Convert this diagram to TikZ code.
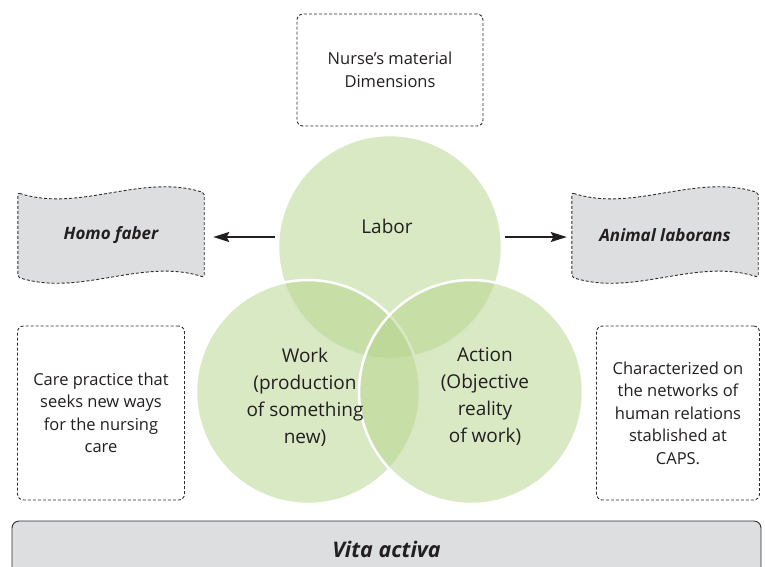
\documentclass[tikz,border=0pt]{standalone}
\usepackage{fontspec}
\setmainfont{Open Sans}
\usetikzlibrary{arrows.meta,backgrounds}

\definecolor{leaf}{RGB}{180,211,138}
\definecolor{boxgray}{RGB}{221,222,224}
\definecolor{dashgray}{RGB}{45,45,45}
\definecolor{ink}{RGB}{35,31,32}

\begin{document}
\begin{tikzpicture}[x=1pt, y=-1pt,
    circ/.style={circle, minimum size=224pt, inner sep=0pt, fill=leaf, fill opacity=0.5, draw=white, line width=2.5pt},
    ctext/.style={align=center, text=ink, font=\fontsize{19}{27}\selectfont},
    dashes/.style={draw=dashgray, dash pattern=on 3pt off 2pt, line width=0.9pt},
    dbox/.style={dashes, rounded corners=6pt, fill=white, align=center, text=ink, font=\fontsize{16.5}{22.5}\selectfont},
    tapebox/.style={minimum width=186pt, minimum height=84pt, text=ink, font=\fontsize{17}{20}\selectfont\bfseries\itshape},
    wave/.style={dashes, fill=boxgray, rounded corners=2pt},
    arr/.style={-{Stealth[length=16pt, width=10pt, inset=2.5pt]}, line width=1.4pt, draw=ink}]
    \useasboundingbox (0,0) rectangle (765,566);
    \clip (0,0) rectangle (765,566);

    % the three spheres of the vita activa
    \node[circ] (labor) at (390,247) {};
    \node[circ] (work) at (308,392) {};
    \node[circ] (action) at (471,392) {};
    \node[ctext] (labor-t) at (387,226) {Labor};
    \node[ctext] (work-t) at (305,397) {Work\\(production\\of something\\new)};
    \node[ctext] (action-t) at (485,397) {Action\\(Objective\\reality\\of work)};

    % side boxes
    \node[dbox, minimum width=186pt, minimum height=112pt] (nurse) at (390,70) {Nurse's material\\Dimensions};
    \node[tapebox] (homo) at (111,235) {Homo faber};
    \node[tapebox] (animal) at (665,235) {Animal laborans};
    \begin{pgfonlayer}{background}
        \foreach \n in {homo,animal}
            \draw[wave] (\n.north west) .. controls +(62,20) and +(-62,-20) .. (\n.north east)
                -- (\n.south east) .. controls +(-62,-20) and +(62,20) .. (\n.south west) -- cycle;
    \end{pgfonlayer}
    \node[dbox, minimum width=167pt, minimum height=174pt] (care) at (101,413) {Care practice that\\seeks new ways\\for the nursing\\care};
    \node[dbox, minimum width=163pt, minimum height=174pt] (caps) at (678,413) {Characterized on\\the networks of\\human relations\\stablished at\\CAPS.};

    \coordinate (lab-w) at (275,237);
    \coordinate (lab-e) at (505,237);
    \draw[arr, shorten >=9pt] (lab-w) -- (homo.east |- lab-w);
    \draw[arr, shorten >=5pt] (lab-e) -- (animal.west |- lab-e);

    \node[draw=dashgray, line width=0.9pt, fill=boxgray, rounded corners=7pt, minimum width=749pt, minimum height=56pt, text=ink, font=\fontsize{21.5}{25}\selectfont\bfseries\itshape] (vita) at (386.5,549) {Vita activa};
\end{tikzpicture}
\end{document}
